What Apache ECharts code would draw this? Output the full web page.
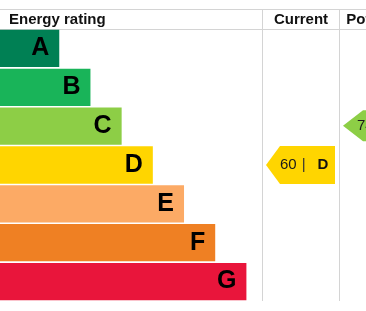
<!DOCTYPE html>
<html>
<head>
<meta charset="utf-8">
<script src="https://cdn.jsdelivr.net/npm/echarts@6/dist/echarts.min.js"></script>
<style>
html, body { margin: 0; padding: 0; background: #fff; }
#main { width: 366px; height: 311px; }
</style>
</head>
<body>
<div id="main"></div>
<script>
// energy bands, top to bottom
var ratings = ['A', 'B', 'C', 'D', 'E', 'F', 'G'];
var barLengths = [19, 29, 39, 49, 59, 69, 79];
var bandColors = ['#008054', '#19b459', '#8dce46', '#ffd500', '#fcaa65', '#ef8023', '#e9153b'];
var headers = ['Energy rating', 'Current', 'Potential'];
var currentRating = [60, 'D'];
var potentialRating = [74, 'C'];

var FONT = '"Liberation Sans", Arial, Helvetica, sans-serif';
var HEAD_TOP = 9, TOP = 29, BOTTOM = 301;
var COL1 = 262, COL2 = 339, COLW = 77;
var LINE = '#d4d4d4';

function colorOf(band) {
    return bandColors[ratings.indexOf(band)];
}

// arrow pointing left, sitting in the row of its band
function arrowRenderer(opt) {
    return function (params, api) {
        var cs = params.coordSys;
        var band = api.value(1);
        var cy = api.coord([0, band])[1] + opt.dy;
        var h = opt.h || api.size([0, 1])[1] - 1;
        var x0 = cs.x + opt.left;
        var xb = x0 + opt.tip;
        var x1 = cs.x + cs.width - opt.right;
        return {
            type: 'group',
            children: [{
                type: 'polygon',
                shape: {
                    points: [[x0, cy], [xb, cy - h / 2], [x1, cy - h / 2], [x1, cy + h / 2], [xb, cy + h / 2]]
                },
                style: { fill: colorOf(ratings[band]) }
            }, {
                type: 'text',
                style: {
                    x: x0 + opt.textOff,
                    y: cy,
                    text: '{n|' + api.value(0) + '}{s||}{b|' + ratings[band] + '}',
                    verticalAlign: 'middle',
                    align: 'left',
                    rich: {
                        n: { fontSize: 15, fontFamily: FONT, fill: '#1a1a1a' },
                        s: { fontSize: 15, fontFamily: FONT, fill: '#333', padding: [0, 12, 0, 5] },
                        b: { fontSize: 15, fontFamily: FONT, fontWeight: 'bold', fill: '#111' }
                    }
                }
            }]
        };
    };
}

var grids = [
    { left: 0, top: TOP, width: COL1, bottom: 311 - BOTTOM },
    { left: COL1, top: TOP, width: COLW, bottom: 311 - BOTTOM },
    { left: COL2, top: TOP, width: COLW, bottom: 311 - BOTTOM }
];

var xAxes = grids.map(function (g, i) {
    return { gridIndex: i, type: 'value', min: 0, max: i === 0 ? 84 : 10, show: false };
});
var yAxes = grids.map(function (g, i) {
    return { gridIndex: i, type: 'category', data: ratings, inverse: true, show: false };
});

var option = {
    animation: false,
    backgroundColor: '#fff',
    grid: grids,
    xAxis: xAxes,
    yAxis: yAxes,
    graphic: [
        { type: 'line', shape: { x1: 0, y1: HEAD_TOP + 0.5, x2: 366, y2: HEAD_TOP + 0.5 }, style: { stroke: LINE, lineWidth: 1 } },
        { type: 'line', shape: { x1: 0, y1: TOP + 0.5, x2: 366, y2: TOP + 0.5 }, style: { stroke: LINE, lineWidth: 1 } },
        { type: 'line', shape: { x1: COL1 + 0.5, y1: HEAD_TOP, x2: COL1 + 0.5, y2: BOTTOM }, style: { stroke: LINE, lineWidth: 1 } },
        { type: 'line', shape: { x1: COL2 + 0.5, y1: HEAD_TOP, x2: COL2 + 0.5, y2: BOTTOM }, style: { stroke: LINE, lineWidth: 1 } },
        { type: 'text', x: 9, y: 20, style: { text: headers[0], font: 'bold 15px ' + FONT, fill: '#111', verticalAlign: 'middle' } },
        { type: 'text', x: COL1 + COLW / 2 + 0.5, y: 20, style: { text: headers[1], font: 'bold 15px ' + FONT, fill: '#111', align: 'center', verticalAlign: 'middle' } },
        { type: 'text', x: COL2 + COLW / 2 + 0.5, y: 20, style: { text: headers[2], font: 'bold 15px ' + FONT, fill: '#111', align: 'center', verticalAlign: 'middle' } }
    ],
    series: [{
        type: 'bar',
        xAxisIndex: 0,
        yAxisIndex: 0,
        barCategoryGap: '4%',
        data: barLengths.map(function (v, i) {
            return { value: v, itemStyle: { color: bandColors[i] } };
        }),
        label: {
            show: true,
            position: 'insideRight',
            distance: 10,
            formatter: '{b}',
            color: '#000',
            fontFamily: FONT,
            fontWeight: 'bold',
            fontSize: 25
        }
    }, {
        type: 'custom',
        xAxisIndex: 1,
        yAxisIndex: 1,
        renderItem: arrowRenderer({ left: 4, right: 4, tip: 14, dy: 0, textOff: 14 }),
        data: [[currentRating[0], ratings.indexOf(currentRating[1])]]
    }, {
        type: 'custom',
        xAxisIndex: 2,
        yAxisIndex: 2,
        renderItem: arrowRenderer({ left: 4, right: 0, tip: 20, h: 31, dy: -0.5, textOff: 14 }),
        data: [[potentialRating[0], ratings.indexOf(potentialRating[1])]]
    }]
};

var myChart = echarts.init(document.getElementById('main'));
myChart.setOption(option);
</script>
</body>
</html>
